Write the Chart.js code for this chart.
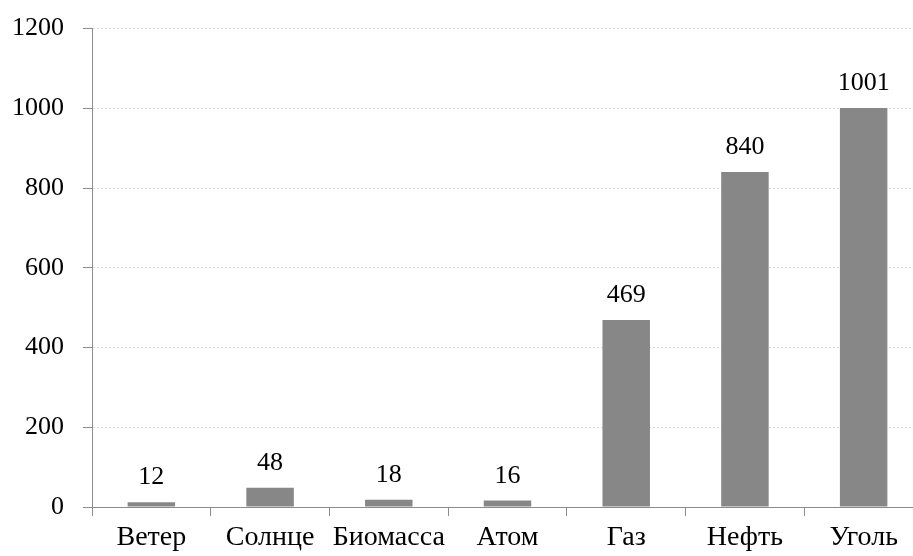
<!DOCTYPE html>
<html>
<head>
<meta charset="utf-8">
<script src="https://cdn.jsdelivr.net/npm/chart.js@4/dist/chart.umd.min.js"></script>
<style>
  html, body { margin: 0; padding: 0; background: #fff; overflow: hidden; }
  #wrap { width: 923px; height: 562px; margin-top: -6px; }
</style>
</head>
<body>
<div id="wrap"><canvas id="chart"></canvas></div>
<script>
'use strict';

// Chart data
const categories = ['Ветер', 'Солнце', 'Биомасса', 'Атом', 'Газ', 'Нефть', 'Уголь'];
const values = [12, 48, 18, 16, 469, 840, 1001];
const yTicks = [0, 200, 400, 600, 800, 1000, 1200];

const FONT = "'Liberation Serif', 'Times New Roman', serif";

// Draw the value above each bar
const valueLabels = {
    id: 'valueLabels',
    afterDatasetsDraw(chart) {
        const ctx = chart.ctx;
        const meta = chart.getDatasetMeta(0);
        ctx.save();
        ctx.font = '26px ' + FONT;
        ctx.fillStyle = '#000';
        ctx.textAlign = 'center';
        ctx.textBaseline = 'alphabetic';
        meta.data.forEach((bar, i) => {
            ctx.fillText(String(values[i]), bar.x, bar.y - 18);
        });
        ctx.restore();
    }
};

new Chart(document.getElementById('chart'), {
    type: 'bar',
    data: {
        labels: categories,
        datasets: [{
            data: values,
            backgroundColor: '#878787',
            borderWidth: 0,
            barPercentage: 0.4,
            categoryPercentage: 1.0
        }]
    },
    options: {
        responsive: true,
        maintainAspectRatio: false,
        animation: false,
        layout: { padding: { left: 0, right: 0, top: 5, bottom: 0 } },
        plugins: {
            legend: { display: false },
            tooltip: { enabled: false }
        },
        scales: {
            x: {
                grid: {
                    offset: true,
                    drawOnChartArea: false,
                    drawTicks: true,
                    tickLength: 9,
                    tickColor: '#8c8c8c'
                },
                border: { display: true, color: '#8c8c8c', width: 1 },
                afterFit(axis) {
                    axis.height = 49;
                },
                ticks: {
                    color: '#000',
                    font: { family: FONT, size: 28 },
                    padding: 5,
                    maxRotation: 0,
                    autoSkip: false
                }
            },
            y: {
                min: 0,
                max: 1200,
                afterBuildTicks(axis) {
                    axis.ticks = yTicks.map(v => ({ value: v }));
                },
                afterFit(axis) {
                    axis.width = 92;
                },
                grid: {
                    color: '#d9d9d9',
                    tickColor: '#8c8c8c',
                    tickLength: 9,
                    tickBorderDash: [],
                    drawTicks: true
                },
                border: { display: true, color: '#8c8c8c', width: 1, dash: [2, 2] },
                ticks: {
                    color: '#000',
                    font: { family: FONT, size: 26 },
                    padding: 19,
                    callback: v => String(v)
                }
            }
        }
    },
    plugins: [valueLabels]
});
</script>
</body>
</html>
